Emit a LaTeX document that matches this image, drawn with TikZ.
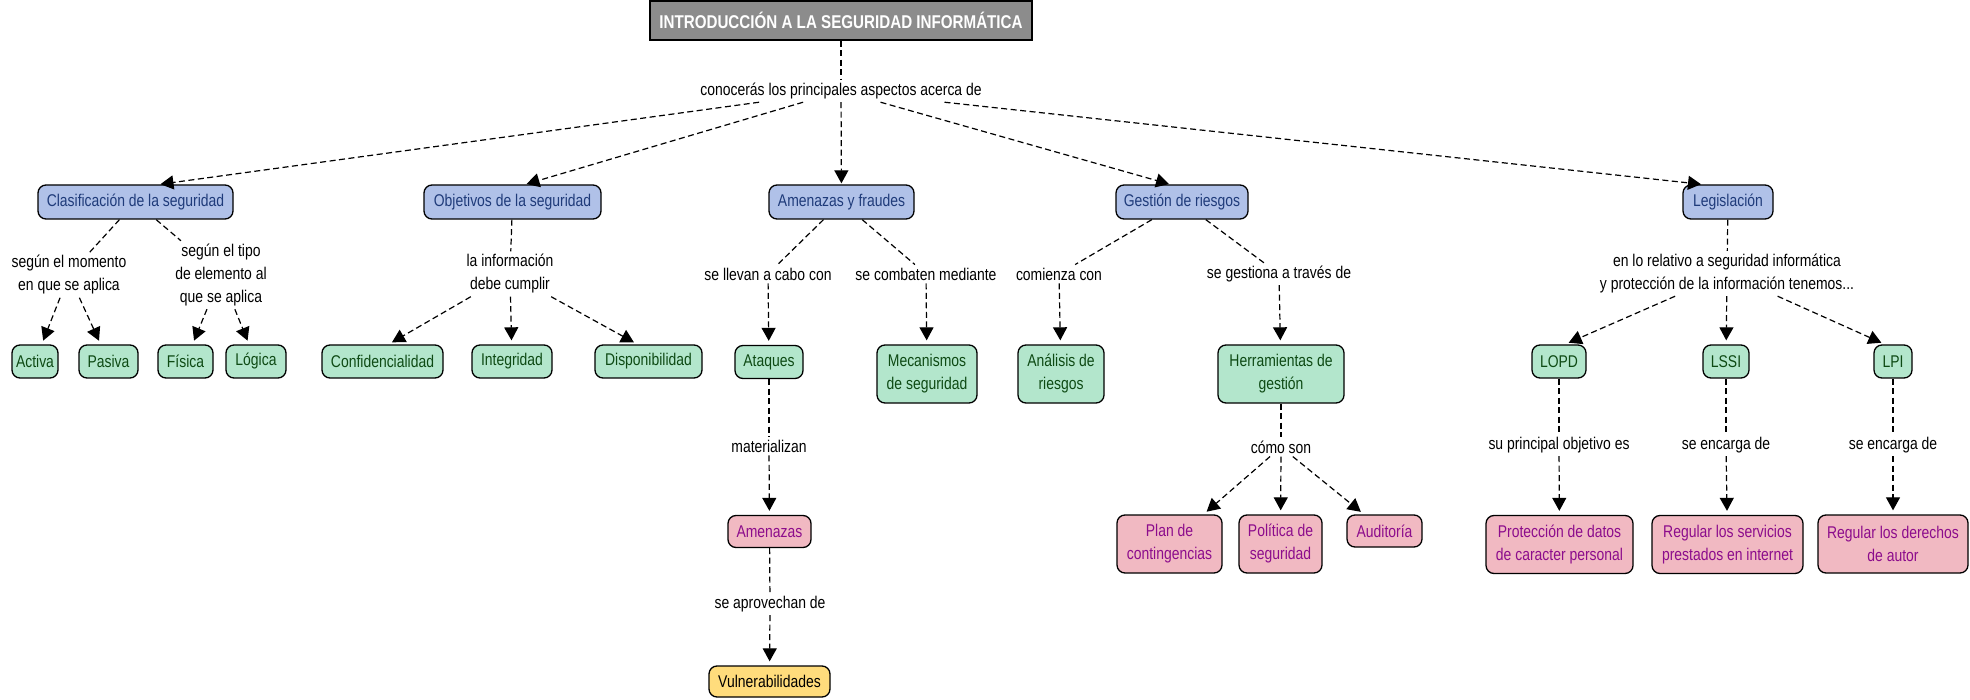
\documentclass[tikz,border=0pt]{standalone}
\usepackage{fontspec}
\setmainfont{Liberation Sans}[FakeStretch=0.82]
\usetikzlibrary{arrows.meta,calc}
\definecolor{bluefill}{HTML}{B0C1E8}
\definecolor{bluetext}{HTML}{1F3B7A}
\definecolor{greenfill}{HTML}{B3E6CC}
\definecolor{greentext}{HTML}{0E4A14}
\definecolor{pinkfill}{HTML}{F1B9C2}
\definecolor{pinktext}{HTML}{8C0C8C}
\definecolor{yellowfill}{HTML}{FFDC7C}
\definecolor{titlefill}{HTML}{8C8C8C}
\tikzset{
  box/.style={draw=black, line width=1.3pt, rounded corners=8pt, align=center, inner sep=2pt, font=\fontsize{17}{23}\selectfont},
  bluebox/.style={box, fill=bluefill, text=bluetext, minimum height=34pt},
  greenbox/.style={box, fill=greenfill, text=greentext, minimum height=33pt},
  greenbox2/.style={box, fill=greenfill, text=greentext, minimum height=58pt},
  pinkbox/.style={box, fill=pinkfill, text=pinktext, minimum height=32pt},
  pinkbox2/.style={box, fill=pinkfill, text=pinktext, minimum height=58pt},
  yellowbox/.style={box, fill=yellowfill, text=black, minimum height=31pt},
  titlebox/.style={draw=black, line width=1.3pt, fill=titlefill, text=white, inner sep=2pt, font=\fontsize{18.5}{23}\selectfont\bfseries},
  lbl/.style={inner sep=3pt, align=center, font=\fontsize{17}{23}\selectfont},
  dl/.style={line width=1.2pt, dash pattern=on 6pt off 3.5pt},
  dla/.style={dl, -{Triangle[width=14pt,length=13pt]}, shorten >=4pt},
  dlt/.style={dla, shorten >=1pt},
}
\begin{document}
\begin{tikzpicture}[x=1pt,y=-1pt]
\useasboundingbox (0,0) rectangle (1970,700);
% title
\node[titlebox, minimum width=382pt, minimum height=39pt] (title) at (841,20.5) {INTRODUCCIÓN A LA SEGURIDAD INFORMÁTICA};
\node[lbl] (l0) at (841,91) {conocerás los principales aspectos acerca de};
% main concepts
\node[bluebox, minimum width=195pt] (clas) at (135.5,202) {Clasificación de la seguridad};
\node[bluebox, minimum width=177pt] (obj) at (512.5,202) {Objetivos de la seguridad};
\node[bluebox, minimum width=145pt] (amen) at (841.5,202) {Amenazas y fraudes};
\node[bluebox, minimum width=132pt] (gest) at (1182,202) {Gestión de riesgos};
\node[bluebox, minimum width=90pt] (legis) at (1728,202) {Legislación};
% level 2 labels
\node[lbl] (l1) at (69,275) {según el momento\\en que se aplica};
\node[lbl] (l2) at (221,275) {según el tipo\\de elemento al\\que se aplica};
\node[lbl] (l3) at (510,274) {la información\\debe cumplir};
\node[lbl] (l4) at (768,274) {se llevan a cabo con};
\node[lbl] (l5) at (926,274) {se combaten mediante};
\node[lbl] (l6) at (1059,274) {comienza con};
\node[lbl] (l7) at (1279,274) {se gestiona a través de};
\node[lbl] (l8) at (1727,273.5) {en lo relativo a seguridad informática\\y protección de la información tenemos...};
% green concepts
\node[greenbox, minimum width=46pt] (activa) at (35,361.5) {Activa};
\node[greenbox, minimum width=59pt] (pasiva) at (108.5,361.5) {Pasiva};
\node[greenbox, minimum width=55pt] (fisica) at (185.5,361.5) {Física};
\node[greenbox, minimum width=60pt] (logica) at (256,361.5) {Lógica};
\node[greenbox, minimum width=121pt] (conf) at (382.5,361.5) {Confidencialidad};
\node[greenbox, minimum width=80pt] (integ) at (512,361.5) {Integridad};
\node[greenbox, minimum width=107pt] (disp) at (648.5,361.5) {Disponibilidad};
\node[greenbox, minimum width=68pt] (ataq) at (769,362) {Ataques};
\node[greenbox2, minimum width=100pt] (mec) at (927,374) {Mecanismos\\de seguridad};
\node[greenbox2, minimum width=86pt] (anal) at (1061,374) {Análisis de\\riesgos};
\node[greenbox2, minimum width=126pt] (herr) at (1281,374) {Herramientas de\\gestión};
\node[greenbox, minimum width=54pt] (lopd) at (1559,361.5) {LOPD};
\node[greenbox, minimum width=46pt] (lssi) at (1726,361.5) {LSSI};
\node[greenbox, minimum width=38pt] (lpi) at (1893,361.5) {LPI};
% level 3 labels
\node[lbl] (l9) at (769,446) {materializan};
\node[lbl] (l10) at (770,604) {se aprovechan de};
\node[lbl] (l11) at (1281,447) {cómo son};
\node[lbl] (l12) at (1559,445) {su principal objetivo es};
\node[lbl] (l13) at (1726,445) {se encarga de};
\node[lbl] (l14) at (1893,445) {se encarga de};
% pink / yellow concepts
\node[pinkbox, minimum width=83pt] (amenz) at (769.5,531.5) {Amenazas};
\node[yellowbox, minimum width=121pt] (vuln) at (769.5,681.5) {Vulnerabilidades};
\node[pinkbox2, minimum width=105pt] (plan) at (1169.5,544) {Plan de\\contingencias};
\node[pinkbox2, minimum width=83pt] (pol) at (1280.5,544) {Política de\\seguridad};
\node[pinkbox, minimum width=75pt] (audit) at (1384.5,531) {Auditoría};
\node[pinkbox2, minimum width=147pt] (prot) at (1559.5,544.5) {Protección de datos\\de caracter personal};
\node[pinkbox2, minimum width=151pt] (regs) at (1727.5,544.5) {Regular los servicios\\prestados en internet};
\node[pinkbox2, minimum width=150pt] (regd) at (1893,544) {Regular los derechos\\de autor};
% connectors
\draw[dl] (title) -- (l0);
\draw[dlt] (l0) -- ($(clas.north)+(24,0)$);
\draw[dlt] (l0) -- ($(obj.north)+(13,0)$);
\draw[dlt] (l0) -- (amen);
\draw[dlt] (l0) -- ($(gest.north)+(-12,0)$);
\draw[dlt] (l0) -- ($(legis.north)+(-26,0)$);
\draw[dl] (clas) -- (l1);
\draw[dla] (l1) -- (activa);
\draw[dla] (l1) -- (pasiva);
\draw[dl] (clas) -- (l2);
\draw[dla] (l2) -- (fisica);
\draw[dla] (l2) -- (logica);
\draw[dl] (obj) -- (l3);
\draw[dla] (l3) -- ($(conf.north)+(6,0)$);
\draw[dla] (l3) -- (integ);
\draw[dla] (l3) -- ($(disp.north)+(-11,0)$);
\draw[dl] (amen) -- (l4);
\draw[dla] (l4) -- (ataq);
\draw[dl] (amen) -- (l5);
\draw[dla] (l5) -- (mec);
\draw[dl] (gest) -- (l6);
\draw[dla] (l6) -- (anal);
\draw[dl] (gest) -- (l7);
\draw[dla] (l7) -- (herr);
\draw[dl] (legis) -- (l8);
\draw[dla] (l8) -- ($(lopd.north)+(6,0)$);
\draw[dla] (l8) -- (lssi);
\draw[dla] (l8) -- ($(lpi.north)+(-8,0)$);
\draw[dl] (ataq) -- (l9);
\draw[dla] (l9) -- (amenz);
\draw[dl] (amenz) -- (l10);
\draw[dla] (l10) -- (vuln);
\draw[dl] (herr) -- (l11);
\draw[dla] (l11) -- (plan);
\draw[dla] (l11) -- (pol);
\draw[dla] (l11) -- (audit);
\draw[dl] (lopd) -- (l12);
\draw[dla] (l12) -- (prot);
\draw[dl] (lssi) -- (l13);
\draw[dla] (l13) -- (regs);
\draw[dl] (lpi) -- (l14);
\draw[dla] (l14) -- (regd);
\end{tikzpicture}
\end{document}
